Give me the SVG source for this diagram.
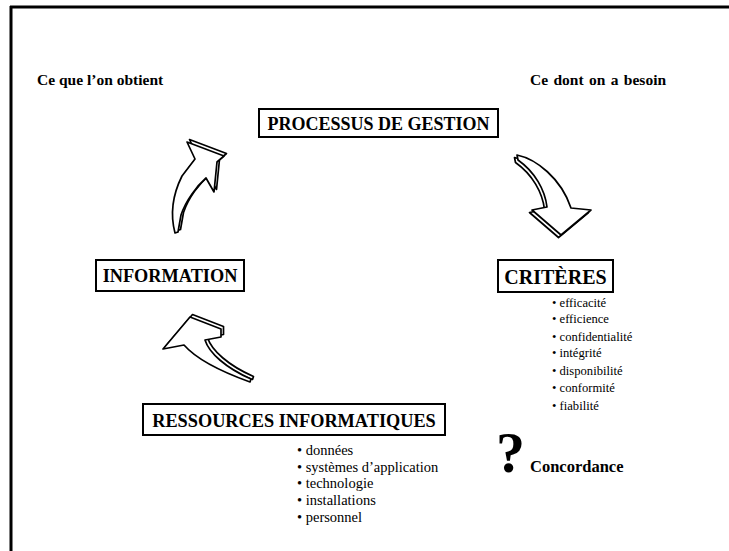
<svg xmlns="http://www.w3.org/2000/svg" xmlns:xlink="http://www.w3.org/1999/xlink" width="729" height="551" viewBox="0 0 729 551">
<style>
.box{fill:#fff;stroke:#000;stroke-width:2}
.ttl{font-family:"Liberation Serif","Times New Roman",serif;font-weight:bold;fill:#000}
.lst{font-family:"Liberation Serif","Times New Roman",serif;font-size:12.6px;fill:#000}
.lst2{font-family:"Liberation Serif","Times New Roman",serif;font-size:14.5px;fill:#000}
.arr{fill:#fff;stroke:#000;stroke-width:1.7;stroke-linejoin:round}
.frame{stroke:#000;stroke-width:3;fill:none}
</style>
<defs>
<path id="a1" d="M175,233 C170,214 173,194 182,176 L195,159 L187,142 L224,156 L217,162 L214,192 L206,178 C197,186 186,200 181,215 L178,232 Z"/>
<path id="a2" d="M517,155 C536,159 561,178 571,208 L591,210 L561,235 L532,210 L547,207 C545,190 535,172 518,160 Z"/>
<path id="a3" d="M250,382 C225,373 198,361 184,345 L163,349 L190,317 L221,329 L221,337 L205,340 C209,353 226,368 251,379 Z"/>
</defs>
<path class="frame" d="M10,7 H729 M11,6 V551"/>
<g id="connectors">
<g id="arrow-to-processus">
<use xlink:href="#a1" class="arr" transform="translate(2.5,-2.5)"/>
<use xlink:href="#a1" class="arr"/>
</g>
<g id="arrow-to-criteres">
<use xlink:href="#a2" class="arr" transform="translate(-2.5,2.5)"/>
<use xlink:href="#a2" class="arr"/>
</g>
<g id="arrow-to-information">
<use xlink:href="#a3" class="arr" transform="translate(2.5,-2.5)"/>
<use xlink:href="#a3" class="arr"/>
</g>
</g>
<g id="label-obtient"><text class="ttl" x="37" y="85" font-size="15.5">Ce que l’on obtient</text></g>
<g id="label-besoin"><text class="ttl" x="530" y="85" font-size="15.5" word-spacing="1.5">Ce dont on a besoin</text></g>
<g id="processus">
<rect class="box" x="259" y="109" width="239" height="28"/>
<text class="ttl" x="378.5" y="129.5" font-size="18" text-anchor="middle">PROCESSUS DE GESTION</text>
</g>
<g id="information">
<rect class="box" x="96" y="260" width="148" height="31"/>
<text class="ttl" x="170" y="282" font-size="18.3" text-anchor="middle">INFORMATION</text>
</g>
<g id="criteres">
<rect class="box" x="498" y="260" width="115" height="32"/>
<text class="ttl" x="555.5" y="283.5" font-size="20" text-anchor="middle">CRITÈRES</text>
<text class="lst" x="552" y="307">• efficacité</text>
<text class="lst" x="552" y="323">• efficience</text>
<text class="lst" x="552" y="341">• confidentialité</text>
<text class="lst" x="552" y="357">• intégrité</text>
<text class="lst" x="552" y="375">• disponibilité</text>
<text class="lst" x="552" y="392">• conformité</text>
<text class="lst" x="552" y="410">• fiabilité</text>
</g>
<g id="ressources">
<rect class="box" x="143" y="404" width="302" height="31"/>
<text class="ttl" x="294" y="426.5" font-size="18.3" text-anchor="middle">RESSOURCES INFORMATIQUES</text>
<text class="lst2" x="297" y="455">• données</text>
<text class="lst2" x="297" y="472">• systèmes d’application</text>
<text class="lst2" x="297" y="488">• technologie</text>
<text class="lst2" x="297" y="505">• installations</text>
<text class="lst2" x="297" y="522">• personnel</text>
</g>
<g id="concordance">
<text class="ttl" x="496" y="472" font-size="58">?</text>
<text class="ttl" x="530" y="472" font-size="16.5">Concordance</text>
</g>
</svg>
